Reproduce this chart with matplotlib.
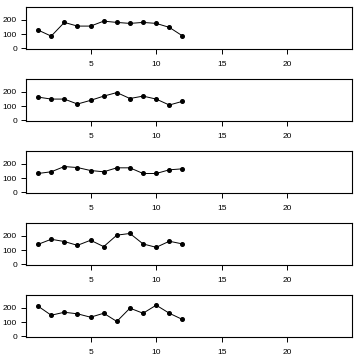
import matplotlib.pyplot as plt
import numpy as np

plt.rcParams['font.family'] = ['Liberation Sans', 'DejaVu Sans']

months = np.arange(1, 13)
s1 = [128, 85, 182, 156, 156, 191, 182, 175, 182, 175, 147, 87]
s2 = [163, 149, 149, 114, 140, 170, 195, 153, 170, 149, 107, 133]
s3 = [132, 144, 181, 174, 153, 144, 172, 172, 132, 132, 158, 165]
s4 = [140, 176, 160, 133, 169, 124, 205, 217, 143, 119, 162, 143]
s5 = [212, 148, 169, 158, 134, 162, 104, 198, 162, 219, 162, 118]
series = [s1, s2, s3, s4, s5]

xticks = [5, 10, 15, 20]
yticks = [0, 100, 200]

fig = plt.figure(figsize=(3.6, 3.6), dpi=100)
left = 26 / 360
width = 326 / 360
h = 42 / 360
for i, s in enumerate(series):
    top = 7 + 72 * i
    ax = fig.add_axes([left, 1 - (top + 42) / 360, width, h])
    ax.plot(months, s, 'k-', lw=0.7, marker='o', ms=2.6)
    ax.set_xlim(0.08, 24.92)
    ax.set_ylim(-6, 291)
    ax.set_xticks(xticks)
    ax.set_yticks(yticks)
    ax.tick_params(axis='both', labelsize=6, length=3.5, width=0.7,
                   color='black')
    ax.tick_params(axis='x', pad=5.5)
    ax.tick_params(axis='y', pad=3)
    for sp in ax.spines.values():
        sp.set_linewidth(0.8)

fig.savefig('out.png', dpi=100)
